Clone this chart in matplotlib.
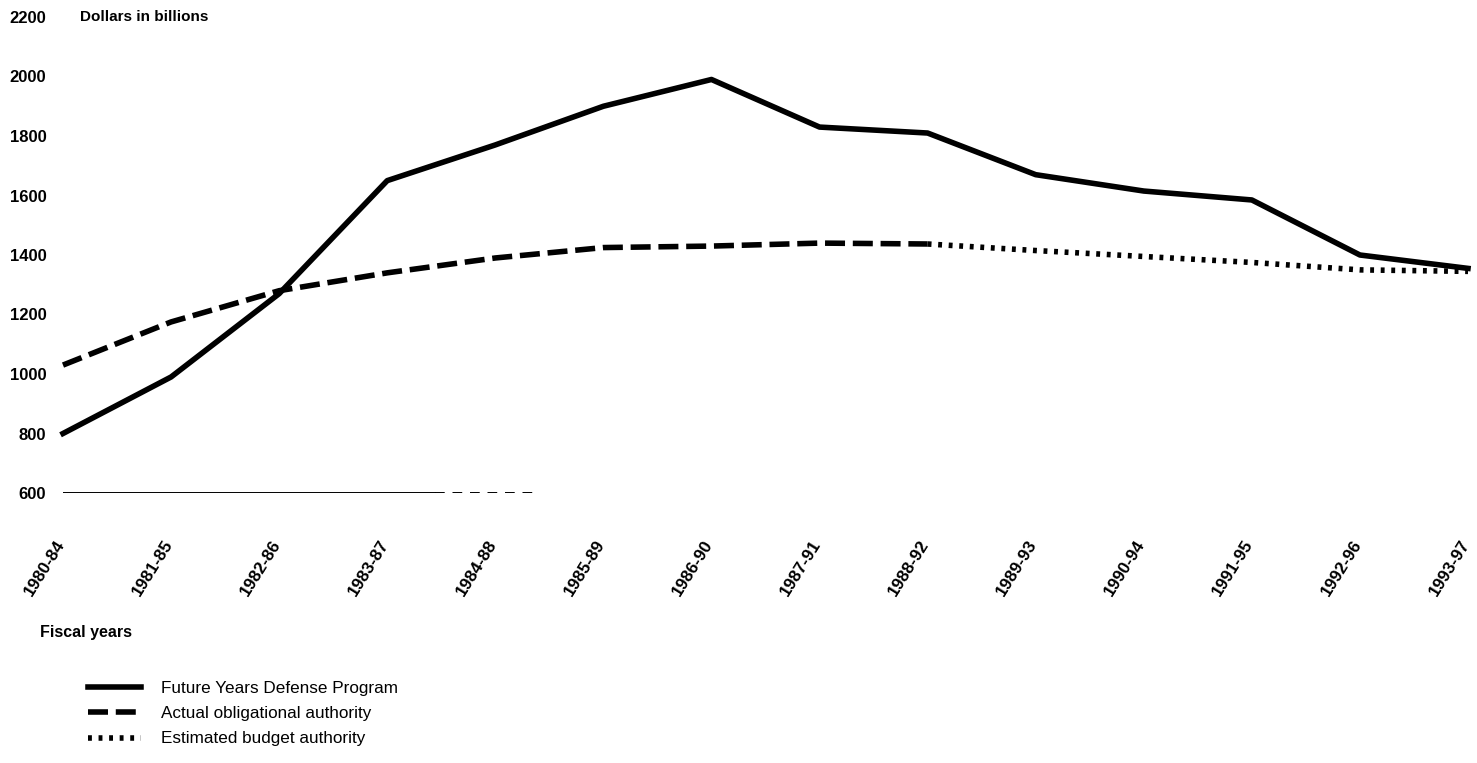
import matplotlib
matplotlib.use("Agg")
import matplotlib.pyplot as plt
import matplotlib.transforms as mtransforms
from matplotlib.lines import Line2D

plt.rcParams['font.family'] = ['Liberation Sans', 'DejaVu Sans']

# fiscal year windows
periods = ["1980-84", "1981-85", "1982-86", "1983-87", "1984-88", "1985-89",
           "1986-90", "1987-91", "1988-92", "1989-93", "1990-94", "1991-95",
           "1992-96", "1993-97"]

# dollars in billions
fydp = [800, 990, 1270, 1650, 1770, 1900, 1990, 1830, 1810, 1670, 1615, 1585, 1400, 1355]
actual_oa = [1030, 1175, 1280, 1340, 1390, 1425, 1430, 1440, 1437]          # 1980-84 .. 1988-92
estimated_ba = [1437, 1415, 1395, 1375, 1350, 1345]                          # 1988-92 .. 1993-97

yticks = [600, 800, 1000, 1200, 1400, 1600, 1800, 2000, 2200]

fig = plt.figure(figsize=(14.77, 7.63), dpi=100)
ax = fig.add_axes([63 / 1477, 1 - 493 / 763, (1468 - 63) / 1477, (493 - 17) / 763])

x = list(range(len(periods)))
lw = 4.0
dash_style = (3.6, 1.4)
dot_style = (0.7, 1.2)
ax.plot(x, fydp, color='black', lw=lw, solid_joinstyle='round', clip_on=False)
ax.plot(x[:len(actual_oa)], actual_oa, color='black', lw=lw, dashes=dash_style,
        dash_capstyle='butt', clip_on=False)
ax.plot(x[len(actual_oa) - 1:], estimated_ba, color='black', lw=lw, dashes=dot_style,
        dash_capstyle='butt', clip_on=False)

# faint baseline left over in the scan
ax.axhline(600, xmin=0, xmax=0.265, color='black', lw=1.4)
ax.axhline(600, xmin=0.265, xmax=0.335, color='black', lw=1.4, dashes=(5, 4))

ax.set_xlim(0, len(periods) - 1)
ax.set_ylim(600, 2200)
ax.set_yticks(yticks)
ax.set_yticklabels([str(v) for v in yticks], fontsize=12, fontweight='bold')
ax.set_xticks(x)
ax.set_xticklabels(periods, fontsize=12.3, fontweight='bold', rotation=58,
                   ha='right', va='center', rotation_mode='anchor')
ax.tick_params(axis='y', length=0, pad=12)
ax.tick_params(axis='x', length=0, pad=35)
shift = mtransforms.ScaledTranslation(-2 / 100, 0, fig.dpi_scale_trans)
for lab in ax.get_xticklabels():
    lab.set_transform(lab.get_transform() + shift)
for s in ax.spines.values():
    s.set_visible(False)

fig.text(80 / 1477, 1 - 17 / 763, "Dollars in billions", fontsize=11,
         fontweight='bold', va='center', ha='left')
fig.text(40 / 1477, 1 - 632 / 763, "Fiscal years", fontsize=11.5,
         fontweight='bold', va='center', ha='left')

handles = [
    Line2D([], [], color='black', lw=lw),
    Line2D([], [], color='black', lw=lw, dashes=dash_style, dash_capstyle='butt'),
    Line2D([], [], color='black', lw=lw, dashes=dot_style, dash_capstyle='butt'),
]
labels = ["Future Years Defense Program", "Actual obligational authority",
          "Estimated budget authority"]
fig.legend(handles, labels, loc='upper left', bbox_to_anchor=(88 / 1477, 1 - 681 / 763),
           frameon=False, fontsize=12.3, handlelength=3.1, handletextpad=1.2,
           labelspacing=0.6, borderpad=0, borderaxespad=0)

fig.savefig("out.png", dpi=100)
